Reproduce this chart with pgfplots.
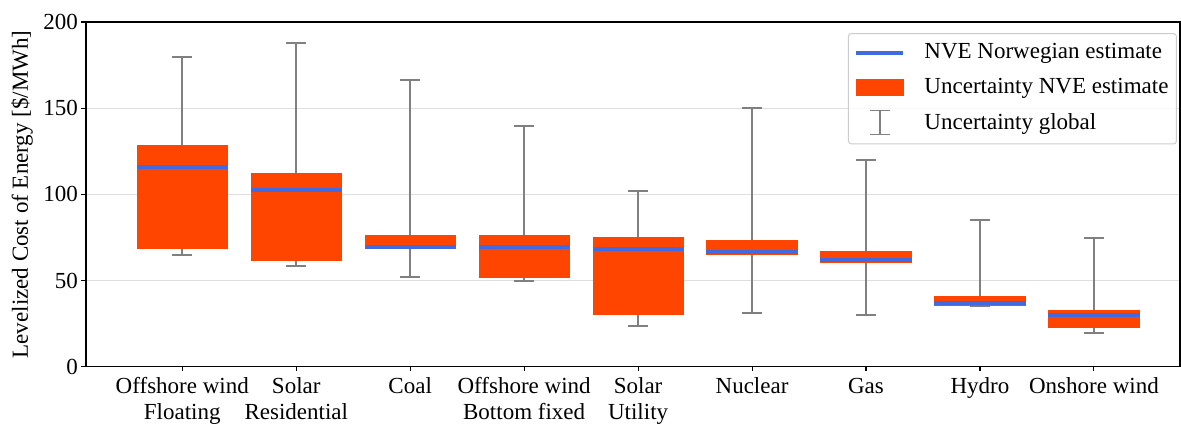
\documentclass[border=0pt]{standalone}
\usepackage{fontspec}
\setmainfont{Liberation Serif}
\usepackage{pgfplots}
\pgfplotsset{compat=1.18}
\usepgfplotslibrary{statistics}
\definecolor{orangered}{HTML}{FF4500}
\definecolor{royalblue}{HTML}{4169E1}
\definecolor{whisk}{HTML}{808080}
\begin{document}
\begin{tikzpicture}
\begin{axis}[
  scale only axis,
  width=1094pt, height=344.7pt,
  xmin=-0.845, xmax=8.755, ymin=0, ymax=200,
  font=\fontsize{23}{26.5}\selectfont,
  /pgf/number format/assume math mode=true,
  xtick={0,1,2,3,4,5,6,7,8},
  xticklabels={{\strut Offshore wind\\Floating},{\strut Solar\\Residential},{\strut Coal},{\strut Offshore wind\\Bottom fixed},{\strut Solar\\Utility},{\strut Nuclear},{\strut Gas},{\strut Hydro},{\strut Onshore wind}},
  xticklabel style={align=center},
  ytick={0,50,100,150,200},
  tick align=outside, tick pos=left,
  major tick length=4.5pt,
  tick style={black, line width=1.1pt},
  axis line style={black, line width=1.1pt},
  ymajorgrids,
  major grid style={black!13, line width=1.1pt},
  ylabel={Levelized Cost of Energy [\$/MWh]},
  ylabel style={at={([xshift=-64pt]axis description cs:0,0.5)}, anchor=center},
  boxplot/draw direction=y,
  boxplot/box extend=0.8,
  boxplot/whisker extend=0.1755,
  boxplot/every box/.style={fill=orangered, draw=none},
  boxplot/every whisker/.style={whisk, line width=1.9pt},
  boxplot/every median/.style={royalblue, line width=4pt},
  legend cell align=left,
  legend style={at={(axis description cs:1,1)}, anchor=north east, xshift=-3pt, yshift=-11pt,
    draw=black!20, line width=1pt, rounded corners=3pt, fill=white, fill opacity=0.8, text opacity=1,
    font=\fontsize{23}{26}\selectfont,
    row sep=9.5pt, inner xsep=6pt, inner ysep=7pt,
    nodes={inner sep=2pt, text height=16pt, text depth=5pt},
    /tikz/every odd column/.append style={column sep=17pt}},
]
\addlegendimage{legend image code/.code={\draw[sharp corners, draw opacity=1, royalblue, line width=4pt] (0pt,0pt) -- (47pt,0pt);}}
\addlegendentry{NVE Norwegian estimate}
\addlegendimage{legend image code/.code={\fill[sharp corners, fill opacity=1, orangered] (0pt,-7.6pt) rectangle (47pt,7.6pt);}}
\addlegendentry{Uncertainty NVE estimate}
\addlegendimage{legend image code/.code={\draw[sharp corners, draw opacity=1, whisk, line width=1.9pt] (23.5pt,-10pt) -- (23.5pt,14pt) (13.5pt,-10pt) -- (33.5pt,-10pt) (13.5pt,14pt) -- (33.5pt,14pt);}}
\addlegendentry{Uncertainty global}

\addplot[forget plot, boxplot prepared={draw position=0, lower whisker=64.6, lower quartile=68.1, median=116.0, upper quartile=128.5, upper whisker=179.7}] coordinates {};
\addplot[forget plot, boxplot prepared={draw position=1, lower whisker=58.2, lower quartile=61.5, median=102.4, upper quartile=112.2, upper whisker=188.0}] coordinates {};
\addplot[forget plot, boxplot prepared={draw position=2, lower whisker=51.9, lower quartile=68.1, median=69.3, upper quartile=76.2, upper whisker=166.2}] coordinates {};
\addplot[forget plot, boxplot prepared={draw position=3, lower whisker=49.9, lower quartile=51.6, median=69.3, upper quartile=76.2, upper whisker=139.9}] coordinates {};
\addplot[forget plot, boxplot prepared={draw position=4, lower whisker=23.8, lower quartile=29.8, median=68.1, upper quartile=75.1, upper whisker=102.1}] coordinates {};
\addplot[forget plot, boxplot prepared={draw position=5, lower whisker=31.0, lower quartile=65.0, median=66.4, upper quartile=73.3, upper whisker=150.1}] coordinates {};
\addplot[forget plot, boxplot prepared={draw position=6, lower whisker=29.8, lower quartile=60.4, median=61.7, upper quartile=67.3, upper whisker=119.8}] coordinates {};
\addplot[forget plot, boxplot prepared={draw position=7, lower whisker=35.2, lower quartile=35.4, median=37.0, upper quartile=41.2, upper whisker=85.0}] coordinates {};
\addplot[forget plot, boxplot prepared={draw position=8, lower whisker=19.7, lower quartile=22.5, median=30.2, upper quartile=32.9, upper whisker=74.7}] coordinates {};
\end{axis}
\pgfresetboundingbox
\path (current axis.south west) ++(-86pt,-57.3pt) rectangle ++(1181pt,424pt);
\end{tikzpicture}
\end{document}
